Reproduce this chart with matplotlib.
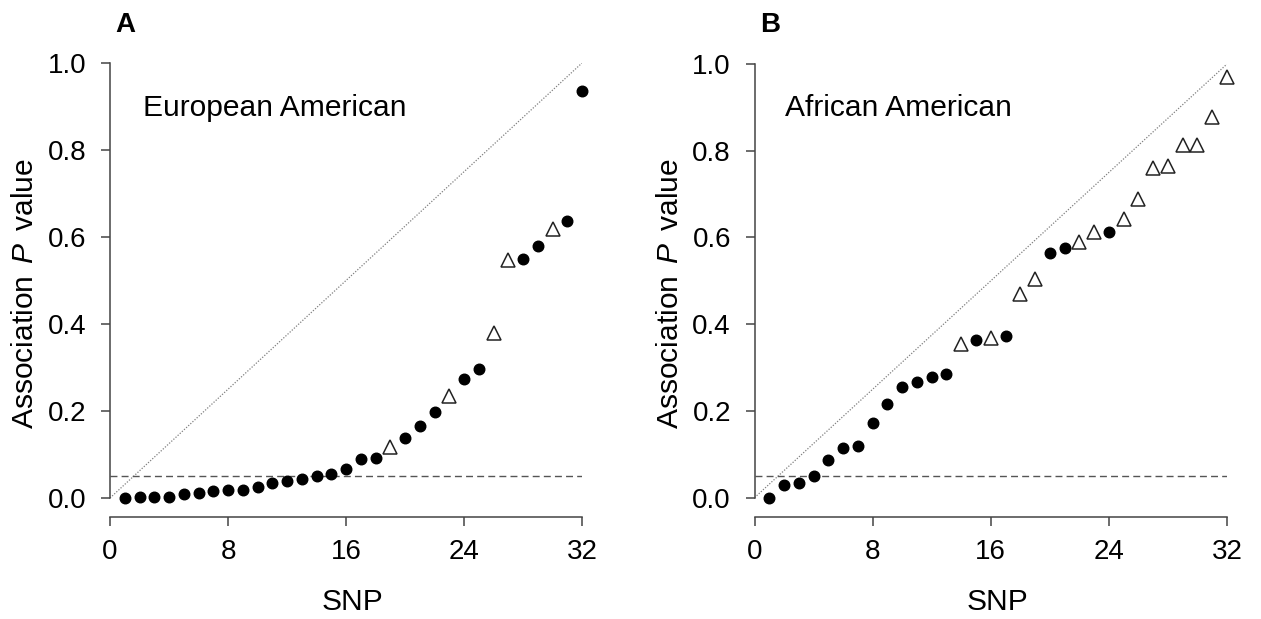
import matplotlib
matplotlib.use("Agg")
import matplotlib.pyplot as plt
import numpy as np

plt.rcParams['font.family'] = ['Liberation Sans', 'DejaVu Sans']
plt.rcParams['mathtext.fontset'] = 'custom'
plt.rcParams['mathtext.rm'] = 'Liberation Sans'
plt.rcParams['mathtext.it'] = 'Liberation Sans:italic'

# data
snp = list(range(1, 33))
ea_p = [0.001, 0.002, 0.003, 0.003, 0.009, 0.011, 0.016, 0.018, 0.019, 0.026,
        0.035, 0.039, 0.044, 0.050, 0.055, 0.067, 0.090, 0.093, 0.118, 0.139,
        0.165, 0.198, 0.234, 0.273, 0.296, 0.379, 0.546, 0.550, 0.579, 0.618,
        0.636, 0.936]
ea_triangle = [19, 23, 26, 27, 30]
aa_p = [0.000, 0.029, 0.033, 0.050, 0.088, 0.115, 0.119, 0.172, 0.217, 0.256,
        0.267, 0.278, 0.285, 0.354, 0.363, 0.368, 0.373, 0.469, 0.504, 0.564,
        0.576, 0.589, 0.613, 0.613, 0.642, 0.688, 0.761, 0.765, 0.813, 0.814,
        0.877, 0.969]
aa_triangle = [14, 16, 18, 19, 22, 23, 25, 26, 27, 28, 29, 30, 31, 32]
threshold = 0.05
x_ticks = [0, 8, 16, 24, 32]
y_ticks = [0.0, 0.2, 0.4, 0.6, 0.8, 1.0]

W, H = 1261, 619
fig = plt.figure(figsize=(W / 100, H / 100), dpi=100)


def px_axes(left, right, top, bottom):
    return fig.add_axes([left / W, 1 - bottom / H, (right - left) / W, (bottom - top) / H])


def panel(ax, p, tri, name, letter, off):
    x = np.array(snp)
    y = np.array(p)
    is_tri = np.isin(x, tri)
    n = len(snp)
    ax.plot([0, n], [0, 1], color='#808080', lw=0.9, dashes=(1, 1.3), zorder=1)
    ax.hlines(threshold, 0, n, color='#555555', lw=1.0, linestyles=(0, (5, 3)), zorder=1)
    ax.plot(x[~is_tri], y[~is_tri], 'o', ms=7.6, color='black', mec='black',
            clip_on=False, zorder=3)
    ax.plot(x[is_tri], y[is_tri], '^', ms=9.5, mfc='white', mec='#222222', mew=1.1,
            clip_on=False, zorder=3)
    ax.set_xlim(0, 32)
    ax.set_ylim(0, 1)
    ax.set_xticks(x_ticks)
    ax.set_yticks(y_ticks)
    ax.set_yticklabels([f'{v:.1f}' for v in y_ticks])
    for s in ['top', 'right']:
        ax.spines[s].set_visible(False)
    ax.spines['bottom'].set_position(('outward', 13.7))
    ax.spines['bottom'].set_bounds(0, 32)
    ax.spines['left'].set_bounds(0, 1)
    for s in ['bottom', 'left']:
        ax.spines[s].set_color('#444444')
        ax.spines[s].set_linewidth(1.1)
    ax.tick_params(axis='both', direction='out', length=6.5, width=1.1,
                   color='#444444', labelsize=20)
    ax.tick_params(axis='x', pad=9.5)
    ax.tick_params(axis='y', pad=10.5)
    ax.text(0.069 if letter == 'A' else 0.0655, 0.879, name, transform=ax.transAxes,
            fontsize=21.6, va='baseline', ha='left')
    fig.text((115 + off) / W, 1 - 32 / H, letter, fontsize=20, fontweight='bold',
             va='baseline', ha='left')
    fig.text((352.5 + off) / W, 1 - 610 / H, 'SNP', fontsize=21.6, ha='center', va='baseline')
    fig.text((33 + off) / W, 1 - 293.5 / H, 'Association $\\,\\it{P}\\,$ value', fontsize=21.6,
             rotation=90, rotation_mode='anchor', ha='center', va='baseline')


ax_a = px_axes(110, 582, 63, 498)
ax_b = px_axes(754.5, 1227, 64, 497.7)
panel(ax_a, ea_p, ea_triangle, 'European American', 'A', 0)
panel(ax_b, aa_p, aa_triangle, 'African American', 'B', 645)

fig.savefig('out.png', dpi=100)
